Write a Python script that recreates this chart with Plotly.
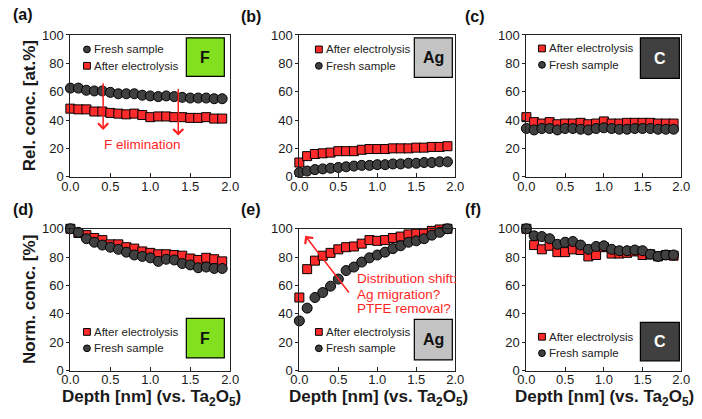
import plotly.graph_objects as go

# ---------------- data ----------------
depth = [round(0.1 * i, 1) for i in range(20)]

# (a) Rel. conc. F
a_fresh = [62.5, 62.5, 61, 60.5, 60.5, 59.5, 58.5, 58.5, 58.5, 57.5, 57, 56.5, 57, 56.5, 56, 55.5, 55.5, 55.5, 55, 55]
a_after = [48, 47.5, 47.5, 46, 46, 45, 44.5, 44, 44.5, 43.5, 42, 42.5, 42.5, 42, 42, 41.5, 41.5, 42, 41, 41]
# (b) Rel. conc. Ag
b_after = [10, 14.5, 16, 16.5, 17, 18, 18, 18, 19, 19.5, 19.5, 19.5, 20, 20, 20, 20.5, 20.5, 21, 21, 21.5]
b_fresh = [3, 4, 5, 5.5, 6, 6.5, 7, 7.5, 8, 8, 8.5, 8.5, 9, 9, 9.5, 9.5, 10, 10, 10.5, 10.5]
# (c) Rel. conc. C
c_after = [42, 38.5, 37.5, 38.5, 37, 37.5, 37.5, 38, 37, 37.5, 39, 37.5, 37.5, 38, 38, 38, 38, 37.5, 37.5, 37.5]
c_fresh = [34, 33, 34, 34, 33, 34, 34, 33.5, 33, 34, 34.5, 34, 33.5, 33.5, 34, 34, 34, 33.5, 33.5, 33.5]
# (d) Norm. conc. F
d_after = [100, 97, 95.5, 93.5, 92, 89, 89, 87, 86, 84, 83, 82, 82, 81.5, 81, 79, 78, 79.5, 78.5, 77]
d_fresh = [100, 97.5, 93, 90.5, 88.5, 87, 85.5, 83.5, 81.5, 80.5, 79.5, 77, 78.5, 78, 75.5, 74.5, 72.5, 73, 72, 72]
# (e) Norm. conc. Ag
e_after = [51.5, 71.5, 77.5, 81, 83, 85.5, 87, 87.5, 89.5, 92, 91.5, 92, 93.5, 94.5, 96, 96.5, 96.5, 98.5, 99.5, 100]
e_fresh = [35, 44, 51.5, 55, 59.5, 64.5, 70.5, 73, 76.5, 79.5, 81.5, 83.5, 86, 88, 90.5, 91.5, 93, 95.5, 97.5, 100]
# (f) Norm. conc. C
f_after = [100, 88.5, 85.5, 88, 83.5, 83.5, 85.5, 85, 80.5, 81.5, 87, 82.5, 82.5, 83, 84, 81.5, 82, 80.5, 81.5, 81]
f_fresh = [100, 95, 94.5, 93, 89, 90.5, 91, 88.5, 85.5, 87.5, 88, 85.5, 84.5, 84.5, 85, 84.5, 82, 80.5, 81.5, 81.5]

x_ticks = [0, 0.5, 1.0, 1.5, 2.0]
x_tick_labels = ["0.0", "0.5", "1.0", "1.5", "2.0"]
y_ticks = [0, 20, 40, 60, 80, 100]

NAME_AFTER = "After electrolysis"
NAME_FRESH = "Fresh sample"
Y_TITLES = ["Rel. conc. [at.%]", "Norm. conc. [%]"]
X_TITLE = "Depth [nm] (vs. Ta<sub>2</sub>O<sub>5</sub>)"

# ---------------- style ----------------
W, H = 702, 419
FONT = "Liberation Sans, Arial, sans-serif"
RED = "#ff2b2b"
GREY = "#404040"
ANN_RED = "#ff1f1f"
TXT = "#1a1a1a"

cols_px = [(63, 227), (298, 458), (531, 690)]
rows_px = [(29, 176), (230, 377)]


def px_x(p):
    return p / W


def px_y(p):
    return 1 - p / H


panels = [
    # (row, col, series in legend order, element, legend marker x px, legend first-row y px)
    (0, 0, [(NAME_FRESH, a_fresh), (NAME_AFTER, a_after)], "F", 80, 44),
    (0, 1, [(NAME_AFTER, b_after), (NAME_FRESH, b_fresh)], "Ag", 318, 44),
    (0, 2, [(NAME_AFTER, c_after), (NAME_FRESH, c_fresh)], "C", 547, 43),
    (1, 0, [(NAME_AFTER, d_after), (NAME_FRESH, d_fresh)], "F", 80, 337),
    (1, 1, [(NAME_AFTER, e_after), (NAME_FRESH, e_fresh)], "Ag", 318, 337),
    (1, 2, [(NAME_AFTER, f_after), (NAME_FRESH, f_fresh)], "C", 547, 342),
]
LEG_STEP = 17
LEG_MS = 7

element_style = {
    "F": dict(fill="#82e01e", text="#111111"),
    "Ag": dict(fill="#c3c3c3", text="#111111"),
    "C": dict(fill="#404040", text="#ffffff"),
}
element_box_px = [
    (182, 221, 32, 72), (416, 455, 32, 73), (648, 688, 32, 74),
    (182, 221, 323, 364), (416, 455, 324, 366), (648, 688, 327, 367),
]

panel_labels = ["(a)", "(b)", "(c)", "(d)", "(e)", "(f)"]
panel_label_px = [(2, 8), (236, 10), (466, 10), (2, 210), (236, 210), (466, 210)]

fig = go.Figure()
layout = dict(
    width=W, height=H,
    margin=dict(l=0, r=0, t=0, b=0),
    paper_bgcolor="white", plot_bgcolor="white",
    font=dict(family=FONT, size=13, color=TXT),
    showlegend=False,
    shapes=[], annotations=[],
)

for i, (row, col, series, elem, lmx, lmy) in enumerate(panels):
    n = i + 1
    xa = "x" if n == 1 else f"x{n}"
    ya = "y" if n == 1 else f"y{n}"
    for k, (name, vals) in enumerate(series):
        is_after = name == NAME_AFTER
        fig.add_trace(go.Scatter(
            x=depth, y=vals, name=name, mode="markers",
            xaxis=xa, yaxis=ya, cliponaxis=False,
            marker=dict(
                symbol="square" if is_after else "circle",
                size=9 if is_after else 10,
                color=RED if is_after else GREY,
                line=dict(color="#000000", width=1),
            ),
        ))
        # legend entry (symbol + label)
        cy = lmy + k * LEG_STEP
        hs = LEG_MS / 2
        layout["shapes"].append(dict(
            type="rect" if is_after else "circle", xref="paper", yref="paper",
            x0=px_x(lmx - hs), x1=px_x(lmx + hs), y0=px_y(cy + hs), y1=px_y(cy - hs),
            fillcolor=RED if is_after else GREY, line=dict(color="#000000", width=1),
        ))
        layout["annotations"].append(dict(
            xref="paper", yref="paper", x=px_x(lmx + 5), y=px_y(cy),
            text=name, showarrow=False, xanchor="left", yanchor="middle",
            font=dict(size=11.5, color="#222222"),
        ))
    cl, cr = cols_px[col]
    rt, rb = rows_px[row]
    xkey = "xaxis" if n == 1 else f"xaxis{n}"
    ykey = "yaxis" if n == 1 else f"yaxis{n}"
    layout[xkey] = dict(
        domain=[px_x(cl), px_x(cr)], anchor=ya, range=[0, 2],
        tickvals=x_ticks, ticktext=x_tick_labels,
        showgrid=False, zeroline=False,
        showline=True, linecolor="#222222", linewidth=1, mirror=True,
        ticks="inside", ticklen=4, tickcolor="#222222",
        ticklabelstandoff=-2 if row == 0 else -3,
        tickfont=dict(size=13, color=TXT),
    )
    layout[ykey] = dict(
        domain=[px_y(rb), px_y(rt)], anchor=xa, range=[0, 100],
        tickvals=y_ticks,
        showgrid=False, zeroline=False,
        showline=True, linecolor="#222222", linewidth=1, mirror=True,
        ticks="outside", ticklen=3, tickcolor="#222222",
        tickfont=dict(size=13, color=TXT),
    )
    if col == 0:
        layout["annotations"].append(dict(
            xref="paper", yref="paper", x=px_x(21), y=px_y((rt + rb) / 2),
            text=f"<b>{Y_TITLES[row]}</b>", textangle=-90, showarrow=False,
            xanchor="center", yanchor="middle", font=dict(size=17, color=TXT),
        ))
    if row == 1:
        layout["annotations"].append(dict(
            xref="paper", yref="paper", x=px_x((cl + cr) / 2 + 1), y=0,
            text=f"<b>{X_TITLE}</b>", showarrow=False,
            xanchor="center", yanchor="bottom", font=dict(size=17, color=TXT),
        ))
    # element box
    x0, x1, y0, y1 = element_box_px[i]
    st = element_style[elem]
    layout["shapes"].append(dict(
        type="rect", xref="paper", yref="paper",
        x0=px_x(x0), x1=px_x(x1), y0=px_y(y1), y1=px_y(y0),
        fillcolor=st["fill"], line=dict(color="#000000", width=1.2),
    ))
    layout["annotations"].append(dict(
        xref="paper", yref="paper", x=px_x((x0 + x1) / 2), y=px_y((y0 + y1) / 2),
        text=f"<b>{elem}</b>", showarrow=False,
        font=dict(size=16, color=st["text"]), xanchor="center", yanchor="middle",
    ))
    # panel label
    plx, ply = panel_label_px[i]
    layout["annotations"].append(dict(
        xref="paper", yref="paper", x=px_x(plx), y=px_y(ply),
        text=f"<b>{panel_labels[i]}</b>", showarrow=False,
        font=dict(size=16, color="#111111"), xanchor="left", yanchor="middle",
    ))

# (a) F elimination arrows and text
for (xx, ytail, yhead) in [(0.41, 67, 33), (1.35, 63, 29)]:
    layout["annotations"].append(dict(
        xref="x", yref="y", axref="x", ayref="y",
        x=xx, y=yhead, ax=xx, ay=ytail, text="", showarrow=True,
        arrowhead=4, arrowsize=1.3, arrowwidth=1.5, arrowcolor=ANN_RED,
    ))
layout["annotations"].append(dict(
    xref="x", yref="y", x=0.9, y=22.5, text="F elimination", showarrow=False,
    font=dict(size=13.5, color=ANN_RED), xanchor="center", yanchor="middle",
))

# (e) distribution shift arrow and text
layout["annotations"].append(dict(
    xref="x5", yref="y5", axref="x5", ayref="y5",
    x=0.075, y=95, ax=0.65, ay=54, text="", showarrow=True,
    arrowhead=4, arrowsize=1.3, arrowwidth=1.5, arrowcolor=ANN_RED,
))
for txt, yy in [("Distribution shift:", 64.6), ("Ag migration?", 53.7), ("PTFE removal?", 43.5)]:
    layout["annotations"].append(dict(
        xref="x5", yref="y5", x=0.72, y=yy, text=txt, showarrow=False,
        font=dict(size=13.5, color=ANN_RED), xanchor="left", yanchor="middle",
    ))

fig.update_layout(**layout)
fig.write_html("out.html")
